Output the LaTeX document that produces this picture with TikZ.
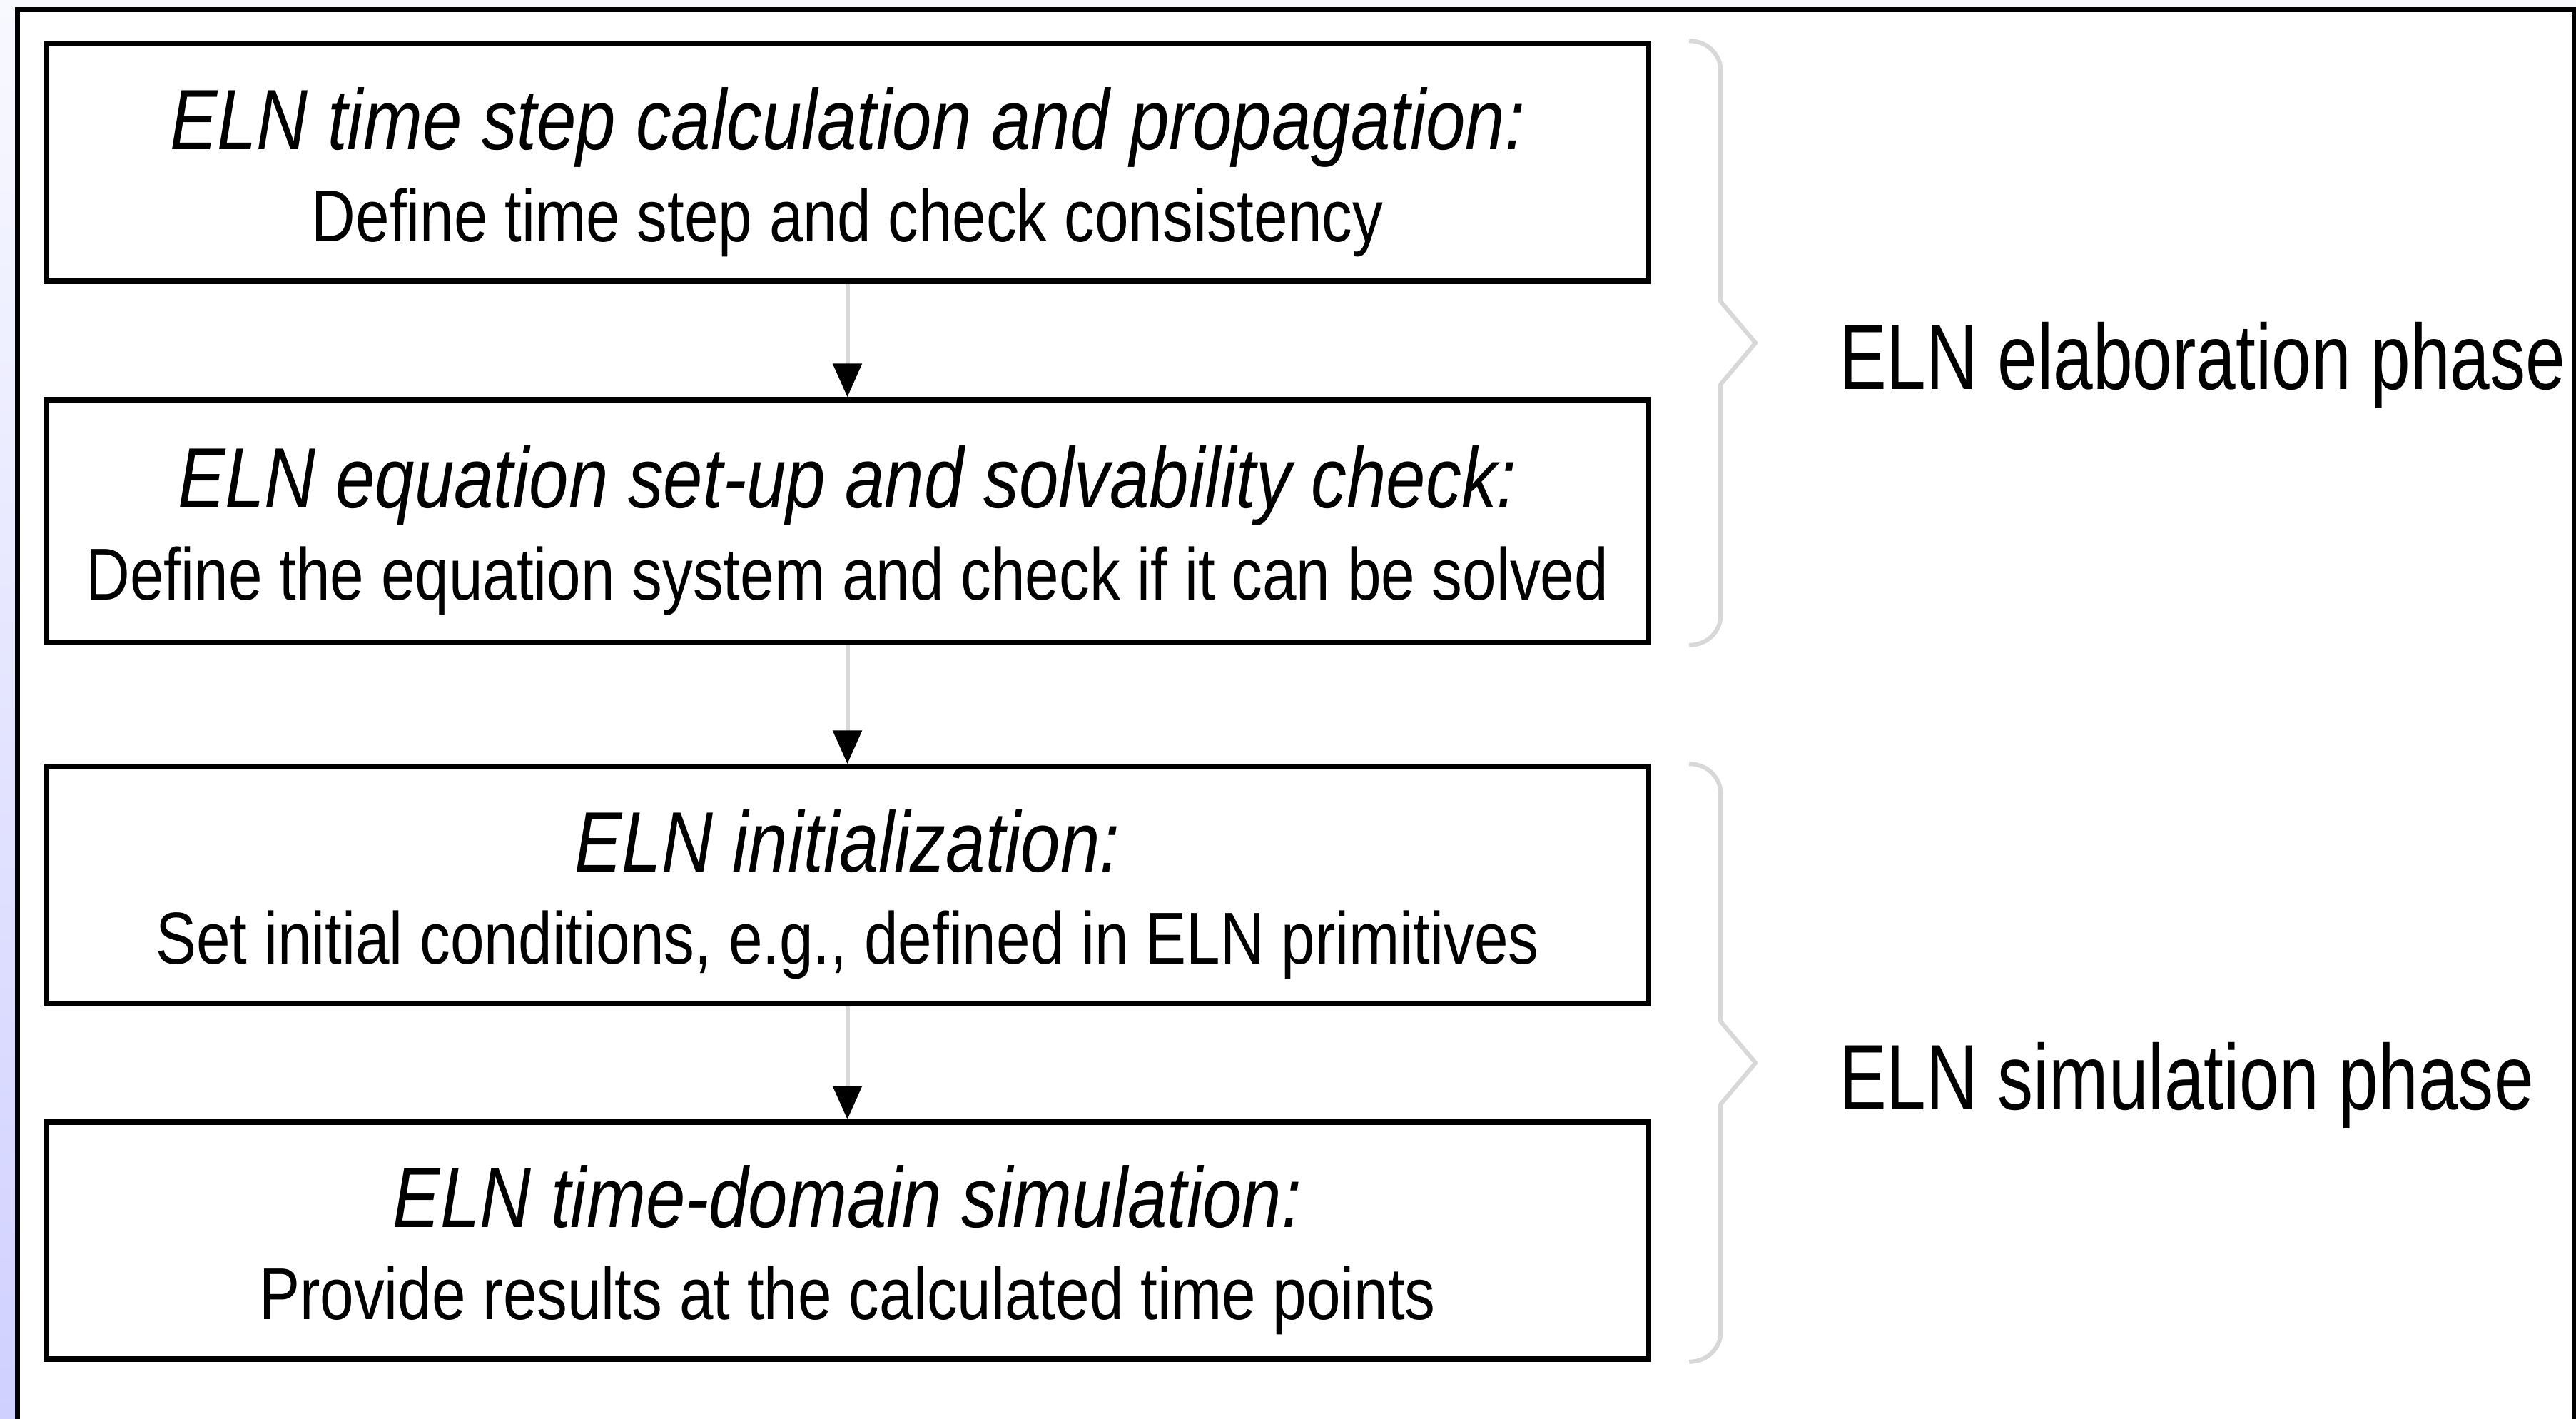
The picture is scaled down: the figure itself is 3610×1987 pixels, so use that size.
\documentclass[tikz,border=0pt]{standalone}
\usepackage{fontspec}
\setmainfont{Liberation Sans}
\newfontfamily\boxfont[FakeStretch=0.83]{Liberation Sans}
\newfontfamily\phasefont[FakeStretch=0.77]{Liberation Sans}
\usetikzlibrary{arrows.meta,calc}
\definecolor{linegray}{RGB}{216,216,216}
\definecolor{edgeblue}{RGB}{208,208,255}
\definecolor{paleblue}{RGB}{248,249,255}

\begin{document}
\begin{tikzpicture}[
    x=0.1pt, y=0.1pt,
    stage/.style={draw=black, line width=0.75pt, fill=white, minimum width=224.6pt,
      inner sep=0pt, align=center, font=\boxfont\fontsize{10.3}{12.9}\selectfont},
    flow/.style={draw=linegray, line width=0.6pt, -{Triangle[length=4.7pt, width=4pt, color=black]}},
    brace/.style={draw=linegray, line width=0.6pt, line join=round},
    phase/.style={font=\phasefont\fontsize{13}{15}\selectfont, inner sep=0pt, anchor=base west},
  ]
  \useasboundingbox (0,0) rectangle (3610,-1987);
  \shade[top color=paleblue, bottom color=edgeblue] (0,0) rectangle (3610,-1987);
  \draw[line width=0.7pt, fill=white] (24.5,-13.5) rectangle (3608,-2050);

  % the four steps
  \foreach \n/\y/\h/\head/\body in {
      b1/-227.5/333/{ELN time step calculation and propagation:}/{Define time step and check consistency},
      b2/-730/340/{ELN equation set-up and solvability check:}/{Define the equation system and check if it can be solved},
      b3/-1240/332/{ELN initialization:}/{Set initial conditions, e.g., defined in ELN primitives},
      b4/-1738/332/{ELN time-domain simulation:}/{Provide results at the calculated time points}} {
    \node[stage, minimum height=\h*0.1pt] (\n) at (1187.5,\y)
      {\rule{0pt}{11.4pt}{\itshape\fontsize{12}{12.9}\selectfont\head}\\ \body};
  }
  \foreach \a/\b in {b1/b2, b2/b3, b3/b4} \draw[flow] (\a) -- (\b);

  % phases
  \foreach \a/\b/\p/\t in {b1/b2/elab/{ELN elaboration phase}, b3/b4/sim/{ELN simulation phase}} {
    \coordinate (top) at ($(\a.north east)+(53,0)$);
    \coordinate (bot) at ($(\b.south east)+(53,0)$);
    \coordinate (mid) at ($(top)!0.5!(bot)$);
    \draw[brace] (top) .. controls +(28,0) and +(0,18) .. ($(top)+(44,-40)$)
      -- ($(mid)+(44,58)$) -- ($(mid)+(93,0)$) -- ($(mid)+(44,-58)$)
      -- ($(bot)+(44,40)$) .. controls +(0,-18) and +(28,0) .. (bot);
    \node[phase] (\p) at ($(mid)+(208,-65)$) {\t};
  }
\end{tikzpicture}
\end{document}
